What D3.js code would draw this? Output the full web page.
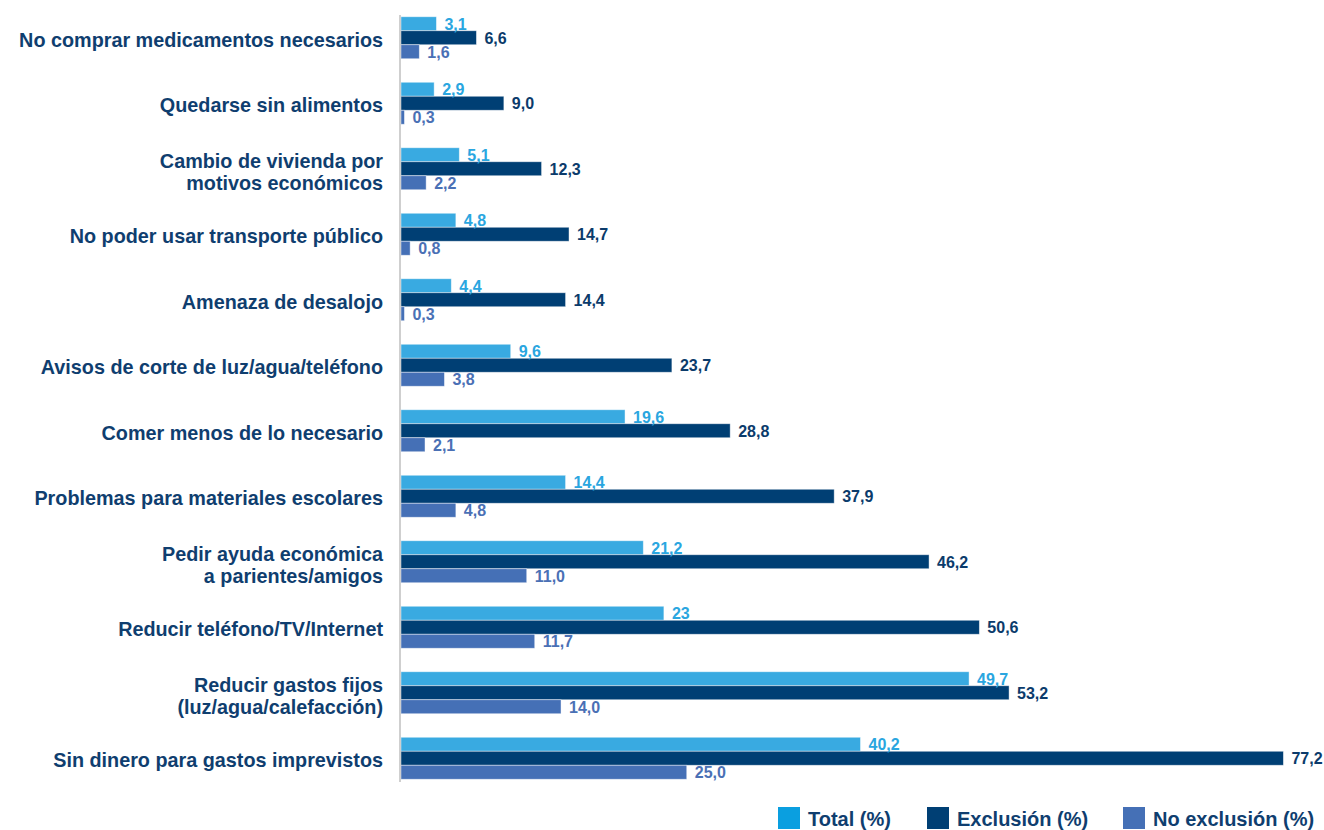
<!DOCTYPE html>
<html lang="es">
<head>
<meta charset="utf-8">
<script src="https://cdn.jsdelivr.net/npm/d3@7"></script>
<style>
  html, body { margin: 0; padding: 0; background: #ffffff; }
  svg { display: block; font-family: "Liberation Sans", Arial, Helvetica, sans-serif; }
</style>
</head>
<body>
<svg id="chart" width="1324" height="830"></svg>
<script>
// Categories, top to bottom; "\n" marks a line break in the label
const categories = [
  "No comprar medicamentos necesarios",
  "Quedarse sin alimentos",
  "Cambio de vivienda por\nmotivos económicos",
  "No poder usar transporte público",
  "Amenaza de desalojo",
  "Avisos de corte de luz/agua/teléfono",
  "Comer menos de lo necesario",
  "Problemas para materiales escolares",
  "Pedir ayuda económica\na parientes/amigos",
  "Reducir teléfono/TV/Internet",
  "Reducir gastos fijos\n(luz/agua/calefacción)",
  "Sin dinero para gastos imprevistos"
];

// Values as printed (decimal comma); bar lengths are parsed from the same strings
const totalValues      = ["3,1", "2,9", "5,1", "4,8", "4,4", "9,6", "19,6", "14,4", "21,2", "23", "49,7", "40,2"];
const exclusionValues  = ["6,6", "9,0", "12,3", "14,7", "14,4", "23,7", "28,8", "37,9", "46,2", "50,6", "53,2", "77,2"];
const noExclusionValues = ["1,6", "0,3", "2,2", "0,8", "0,3", "3,8", "2,1", "4,8", "11,0", "11,7", "14,0", "25,0"];

const seriesNames = ["Total (%)", "Exclusión (%)", "No exclusión (%)"];

const barColors    = ["#39aae1", "#003f74", "#4570b6"];
const labelColors  = ["#2aa6e0", "#0b3b6b", "#4a70b5"];
const legendColors = ["#0a9fe0", "#003f74", "#4570b6"];
const textColor = "#0f3e6f";

const parseNum = s => +s.replace(",", ".");
const seriesValues = [totalValues, exclusionValues, noExclusionValues];

const svg = d3.select("#chart");

// Scales
const x = d3.scaleLinear().domain([0, 80]).range([401, 401 + 80 * 11.43]);

const groupPad = 1 - 42 / 65.5;
const y = d3.scaleBand()
  .domain(d3.range(categories.length))
  .range([5, 5 + 65.5 * categories.length])
  .paddingInner(groupPad)
  .paddingOuter(groupPad / 2);

const ySub = d3.scaleBand()
  .domain(d3.range(seriesNames.length))
  .range([0, y.bandwidth()]);

// Bars and value labels
const groups = svg.append("g").selectAll("g.group")
  .data(categories.map((c, i) => ({ cat: c, i })))
  .join("g")
  .attr("class", "group")
  .attr("transform", d => `translate(0,${y(d.i)})`);

groups.each(function (g) {
  const sel = d3.select(this);
  const rows = seriesValues.map((vals, s) => ({ s, label: vals[g.i], value: parseNum(vals[g.i]) }));

  sel.selectAll("rect")
    .data(rows)
    .join("rect")
    .attr("x", x(0))
    .attr("y", d => ySub(d.s))
    .attr("width", d => Math.max(1.5, x(d.value) - x(0)))
    .attr("height", ySub.bandwidth())
    .attr("fill", d => barColors[d.s])
    .attr("stroke", "rgba(255,255,255,0.55)")
    .attr("stroke-width", 0.8);

  sel.selectAll("text.val")
    .data(rows)
    .join("text")
    .attr("class", "val")
    .attr("x", d => x(d.value) + 8)
    .attr("y", d => ySub(d.s) + ySub.bandwidth() / 2 + 6)
    .attr("fill", d => labelColors[d.s])
    .attr("font-size", 16)
    .attr("font-weight", "bold")
    .text(d => d.label);
});

// Category axis line
const [r0, r1] = y.range();
svg.append("line")
  .attr("x1", 400).attr("x2", 400)
  .attr("y1", r0 + 10).attr("y2", r1 - 9)
  .attr("stroke", "#cfcfcf")
  .attr("stroke-width", 2);

// Category labels, right aligned against the axis
const catLabels = svg.append("g").selectAll("text")
  .data(categories.map((c, i) => ({ lines: c.split("\n"), i })))
  .join("text")
  .attr("text-anchor", "end")
  .attr("fill", textColor)
  .attr("font-size", 19.8)
  .attr("font-weight", "bold");

catLabels.each(function (d) {
  const cy = y(d.i) + y.bandwidth() / 2;
  const t = d3.select(this);
  if (d.lines.length === 1) {
    t.append("tspan").attr("x", 383).attr("y", cy + 9).text(d.lines[0]);
  } else {
    d.lines.forEach((ln, k) => {
      t.append("tspan").attr("x", 383).attr("y", cy - 0.5 + k * 22).text(ln);
    });
  }
});

// Legend
const legendX = [778, 927, 1123];
const legend = svg.append("g").selectAll("g")
  .data(seriesNames.map((n, i) => ({ n, i })))
  .join("g")
  .attr("transform", d => `translate(${legendX[d.i]},807)`);

legend.append("rect")
  .attr("width", 22).attr("height", 22)
  .attr("fill", d => legendColors[d.i]);

legend.append("text")
  .attr("x", 30).attr("y", 19)
  .attr("fill", textColor)
  .attr("font-size", 20)
  .attr("font-weight", "bold")
  .text(d => d.n);
</script>
</body>
</html>
